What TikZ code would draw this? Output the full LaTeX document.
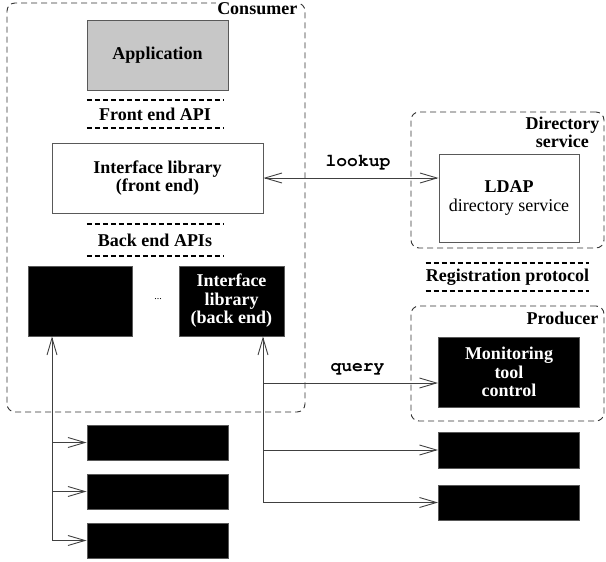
\documentclass[tikz,border=0pt]{standalone}
\usepackage{fontspec}
\setmainfont{Liberation Serif}
\setmonofont{TeX Gyre Cursor}
\usetikzlibrary{positioning,arrows.meta}

\begin{document}
\begin{tikzpicture}[
    x = 1pt, y = -1pt,
    > = {Straight Barb[length=17pt,width=10pt]},
    font = \fontsize{18}{18.5}\selectfont\bfseries,
    line/.style = {draw=black!75, line width=0.9pt},
    box/.style = {rectangle, draw=black!65, line width=0.9pt, align=center, inner sep=0pt},
    blackbox/.style = {box, fill=black, text=white},
    group/.style = {rectangle, draw=black!80, dash pattern=on 6pt off 4pt, line width=0.9pt, rounded corners=8pt},
    grouplabel/.style = {anchor=north east, inner sep=1pt, align=center},
    api/.style = {rectangle, inner sep=0pt},
    apiline/.style = {draw=black, dash pattern=on 5pt off 3pt, line width=1.6pt},
    msg/.style = {font=\fontsize{18}{18}\selectfont\ttfamily\bfseries, above=4pt, pos=0.54}
]
    \useasboundingbox (0,0) rectangle (606,562);

    % groups
    \node[group, minimum width=298pt, minimum height=409pt] (cons) at (156,207.5) {};
    \node[group, minimum width=193pt, minimum height=136pt] (dir) at (507.5,180) {};
    \node[group, minimum width=193pt, minimum height=115pt] (prod) at (507.5,363.5) {};
    \node[grouplabel, fill=white] at ([xshift=-7pt,yshift=1pt]cons.north east) {Consumer};
    \node[grouplabel] at ([xshift=-4pt,yshift=-4pt]dir.north east) {Directory\\service};
    \node[grouplabel] at ([xshift=-5pt,yshift=-5pt]prod.north east) {Producer};

    % consumer side
    \node[box, fill=black!22, minimum width=141pt, minimum height=70pt] (app) at (157.5,55) {Application};
    \node[api, minimum width=136pt, minimum height=28pt] (feapi) at (155,114) {Front end API};
    \node[box, minimum width=211pt, minimum height=70pt] (front) at (157.5,178) {Interface library\\(front end)};
    \node[api, minimum width=136pt, minimum height=32pt] (beapi) at (155,240) {Back end APIs};
    \node[blackbox, minimum width=104pt, minimum height=70pt] (beA) at (80,301) {};
    \node[blackbox, minimum width=105pt, minimum height=70pt] (beB) at (231.5,301) {Interface\\library\\(back end)};
    \node[font=\fontsize{10}{10}\selectfont] (dots) at (158,299) {...};

    \node[blackbox, minimum width=141pt, minimum height=35pt] (c1) at (157.5,442.5) {};
    \node[blackbox, minimum width=141pt, minimum height=35pt] (c2) at (157.5,491.5) {};
    \node[blackbox, minimum width=141pt, minimum height=35pt] (c3) at (157.5,540.5) {};

    % directory and producers
    \node[box, minimum width=140pt, minimum height=88pt] (ldap) at (509,198) {LDAP\\{\mdseries directory service}};
    \node[api, minimum width=137pt, minimum height=28pt] (regp) at (507.5,277) {Registration protocol};
    \node[blackbox, minimum width=141pt, minimum height=70pt] (mon) at (509,372) {Monitoring\\tool\\control};
    \node[blackbox, minimum width=141pt, minimum height=36pt] (p2) at (509,450) {};
    \node[blackbox, minimum width=141pt, minimum height=35pt] (p3) at (509,502.5) {};

    % API separators
    \foreach \n in {feapi, beapi, regp} {
        \draw[apiline] (\n.north west) -- (\n.north east);
        \draw[apiline] (\n.south west) -- (\n.south east);
    }

    % connectors
    \coordinate (lbot) at (52,540.5);
    \coordinate (rbot) at (263,502.5);
    \coordinate (qy) at ([yshift=-11pt]mon.west);

    \draw[line, <->] (front.east) -- node[msg] {lookup} (front.east -| ldap.west);
    \draw[line, ->] (lbot) -- (lbot |- beA.south);
    \foreach \c in {c1, c2, c3}
        \draw[line, ->] (lbot |- \c.west) -- (\c.west);
    \draw[line, ->] (rbot) -- (rbot |- beB.south);
    \draw[line, ->] (rbot |- qy) -- node[msg] {query} (qy);
    \foreach \p in {p2, p3}
        \draw[line, ->] (rbot |- \p.west) -- (\p.west);
\end{tikzpicture}
\end{document}
